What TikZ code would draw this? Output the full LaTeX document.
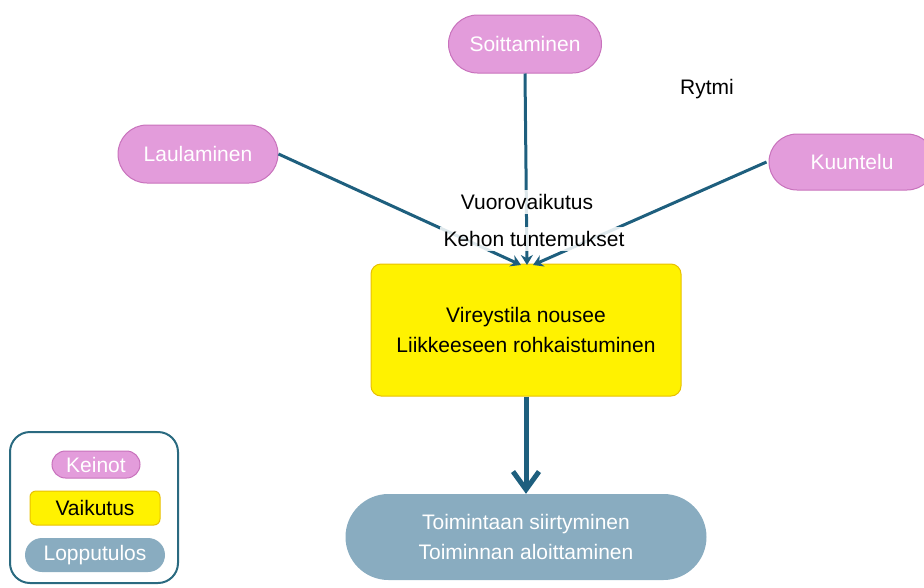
\documentclass[tikz,border=0pt]{standalone}
\usepackage{fontspec}
\setmainfont{Liberation Sans}
\usetikzlibrary{arrows.meta}
\definecolor{pinkfill}{HTML}{E39CDB}
\definecolor{pinkdraw}{HTML}{C872BC}
\definecolor{yelfill}{HTML}{FFF200}
\definecolor{yeldraw}{HTML}{E8C000}
\definecolor{bluefill}{HTML}{89ACC0}
\definecolor{linecol}{HTML}{1E5F7E}
\definecolor{legcol}{HTML}{2A6A80}
\tikzset{
  pill/.style={draw=pinkdraw, line width=1pt, fill=pinkfill, text=white, minimum height=58pt, rounded corners=29pt, font=\fontsize{21}{25}\selectfont},
  effect/.style={draw=yeldraw, line width=1pt, fill=yelfill, text=black, rounded corners=10pt, font=\fontsize{21}{30}\selectfont, align=center},
  result/.style={fill=bluefill, text=white, rounded corners=43pt, font=\fontsize{21}{30}\selectfont, align=center},
  lbl/.style={text=black, font=\fontsize{21}{25}\selectfont},
  fadelbl/.style={lbl, fill=white, fill opacity=0.85, text opacity=1, inner sep=4pt},
  conn/.style={draw=linecol, line width=3pt, -{Stealth[length=10pt,width=12pt]}},
}
\begin{document}
\begin{tikzpicture}[x=1pt,y=-1pt]
\useasboundingbox (0,0) rectangle (924,587);
% main nodes
\node[pill, minimum width=153pt] (soit) at (525,44) {Soittaminen};
\node[pill, minimum width=160pt] (laul) at (198,154) {Laulaminen};
\node[pill, minimum width=166pt, minimum height=56pt, rounded corners=28pt] (kuun) at (852,162) {Kuuntelu};
\node[effect, minimum width=310pt, minimum height=132pt] (vir) at (526,330) {Vireystila nousee\\Liikkeeseen rohkaistuminen};
\node[result, minimum width=361pt, minimum height=86pt] (toim) at (526,537) {Toimintaan siirtyminen\\Toiminnan aloittaminen};
\coordinate (tgt) at (527,265);
% connectors
\draw[conn] (laul.east) -- ([xshift=-6pt]tgt);
\draw[conn] (soit.south) -- (tgt);
\draw[conn] ([xshift=-2pt]kuun.west) -- ([xshift=6pt]tgt);
\draw[draw=linecol, line width=5pt, -{Straight Barb[length=18pt,width=26pt,line width=5pt]}] (vir.south) -- (toim.north);
% labels
\node[lbl] (rytmi) at (707,89) {Rytmi};
\node[fadelbl] (vuoro) at (527,202) {Vuorovaikutus};
\node[fadelbl] (kehon) at (534,239) {Kehon tuntemukset};
% legend
\node[draw=legcol, line width=2pt, rounded corners=20pt, minimum width=168pt, minimum height=151pt] (leg) at (94,507.5) {};
\node[pill, minimum width=88pt, minimum height=27pt, rounded corners=13.5pt, inner sep=0pt] (k1) at (96,464.5) {Keinot};
\node[effect, minimum width=130pt, minimum height=34pt, rounded corners=6pt, inner sep=0pt] (k2) at (95,508) {Vaikutus};
\node[result, minimum width=140pt, minimum height=34pt, rounded corners=17pt, inner sep=0pt] (k3) at (95,555) {Lopputulos};
\end{tikzpicture}
\end{document}
